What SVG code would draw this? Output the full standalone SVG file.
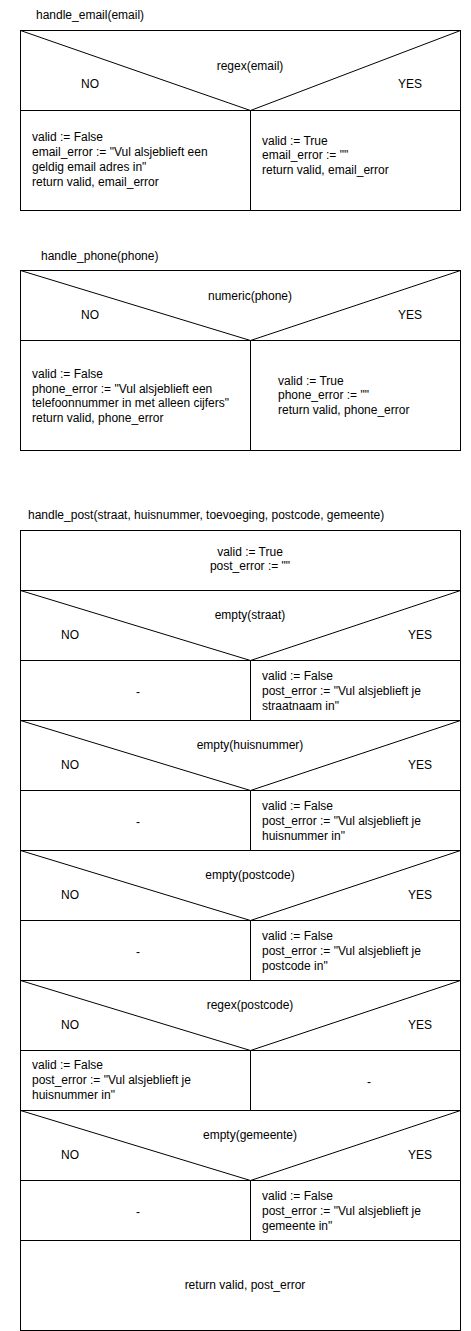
<svg xmlns="http://www.w3.org/2000/svg" width="471" height="1331" viewBox="0 0 471 1331">
<style>
text{font-family:"Liberation Sans",Arial,sans-serif;font-size:12px;fill:#000}
.c{text-anchor:middle}
.b{fill:#fff;stroke:#000;stroke-width:1}
.l{stroke:#000;stroke-width:1;fill:none}
</style>
<rect width="471" height="1331" fill="#fff"/>
<g id="email">
<text x="36" y="19">handle_email(email)</text>
<rect class="b" x="20.5" y="30.5" width="440" height="180"/>
<path class="l" d="M20.5 30.5 L250.5 110.5 L460.5 30.5 M20.5 110.5 H460.5 M250.5 110.5 V210.5"/>
<text class="c" x="250" y="70">regex(email)</text>
<text class="c" x="90" y="88">NO</text>
<text class="c" x="410" y="88">YES</text>
<text x="32" y="141">valid := False</text>
<text x="32" y="156">email_error := "Vul alsjeblieft een</text>
<text x="32" y="171">geldig email adres in"</text>
<text x="32" y="186">return valid, email_error</text>
<text x="262" y="145">valid := True</text>
<text x="262" y="159">email_error := ""</text>
<text x="262" y="174">return valid, email_error</text>
</g>
<g id="phone">
<text x="41" y="260">handle_phone(phone)</text>
<rect class="b" x="20.5" y="270.5" width="440" height="180"/>
<path class="l" d="M20.5 270.5 L250.5 340.5 L460.5 270.5 M20.5 340.5 H460.5 M250.5 340.5 V450.5"/>
<text class="c" x="250" y="300">numeric(phone)</text>
<text class="c" x="90" y="319">NO</text>
<text class="c" x="410" y="319">YES</text>
<text x="32" y="378">valid := False</text>
<text x="32" y="393">phone_error := "Vul alsjeblieft een</text>
<text x="32" y="407">telefoonnummer in met alleen cijfers"</text>
<text x="32" y="422">return valid, phone_error</text>
<text x="278" y="385">valid := True</text>
<text x="278" y="399">phone_error := ""</text>
<text x="278" y="414">return valid, phone_error</text>
</g>
<g id="post">
<text x="28" y="519">handle_post(straat, huisnummer, toevoeging, postcode, gemeente)</text>
<rect class="b" x="20.5" y="530.5" width="440" height="800"/>
<text class="c" x="250" y="556">valid := True</text>
<text class="c" x="250" y="570">post_error := ""</text>
</g>
<g id="d1">
<path class="l" d="M20.5 590.5 H460.5 M20.5 590.5 L250.5 660.5 L460.5 590.5 M20.5 660.5 H460.5 M250.5 660.5 V720.5"/>
<text class="c" x="250" y="619">empty(straat)</text>
<text class="c" x="70" y="639">NO</text>
<text class="c" x="420" y="639">YES</text>
<text class="c" x="138" y="696">-</text>
<text x="262" y="680">valid := False</text>
<text x="262" y="695">post_error := "Vul alsjeblieft je</text>
<text x="262" y="710">straatnaam in"</text>
</g>
<g id="d2">
<path class="l" d="M20.5 720.5 H460.5 M20.5 720.5 L250.5 790.5 L460.5 720.5 M20.5 790.5 H460.5 M250.5 790.5 V850.5"/>
<text class="c" x="250" y="749">empty(huisnummer)</text>
<text class="c" x="70" y="769">NO</text>
<text class="c" x="420" y="769">YES</text>
<text class="c" x="138" y="826">-</text>
<text x="262" y="810">valid := False</text>
<text x="262" y="825">post_error := "Vul alsjeblieft je</text>
<text x="262" y="840">huisnummer in"</text>
</g>
<g id="d3">
<path class="l" d="M20.5 850.5 H460.5 M20.5 850.5 L250.5 920.5 L460.5 850.5 M20.5 920.5 H460.5 M250.5 920.5 V980.5"/>
<text class="c" x="250" y="879">empty(postcode)</text>
<text class="c" x="70" y="899">NO</text>
<text class="c" x="420" y="899">YES</text>
<text class="c" x="138" y="956">-</text>
<text x="262" y="940">valid := False</text>
<text x="262" y="955">post_error := "Vul alsjeblieft je</text>
<text x="262" y="970">postcode in"</text>
</g>
<g id="d4">
<path class="l" d="M20.5 980.5 H460.5 M20.5 980.5 L250.5 1050.5 L460.5 980.5 M20.5 1050.5 H460.5 M250.5 1050.5 V1110.5"/>
<text class="c" x="250" y="1009">regex(postcode)</text>
<text class="c" x="70" y="1029">NO</text>
<text class="c" x="420" y="1029">YES</text>
<text x="32" y="1069">valid := False</text>
<text x="32" y="1084">post_error := "Vul alsjeblieft je</text>
<text x="32" y="1099">huisnummer in"</text>
<text class="c" x="369" y="1086">-</text>
</g>
<g id="d5">
<path class="l" d="M20.5 1110.5 H460.5 M20.5 1110.5 L250.5 1180.5 L460.5 1110.5 M20.5 1180.5 H460.5 M250.5 1180.5 V1240.5 M20.5 1240.5 H460.5"/>
<text class="c" x="250" y="1139">empty(gemeente)</text>
<text class="c" x="70" y="1159">NO</text>
<text class="c" x="420" y="1159">YES</text>
<text class="c" x="138" y="1216">-</text>
<text x="262" y="1200">valid := False</text>
<text x="262" y="1215">post_error := "Vul alsjeblieft je</text>
<text x="262" y="1230">gemeente in"</text>
</g>
<g id="ret">
<text class="c" x="245" y="1289">return valid, post_error</text>
</g>
<g id="connectors"></g>
</svg>
